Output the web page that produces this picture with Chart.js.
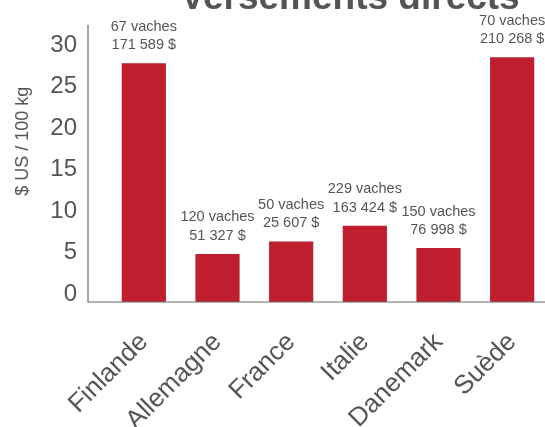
<!DOCTYPE html>
<html>
<head>
<meta charset="utf-8">
<script src="https://cdn.jsdelivr.net/npm/chart.js@4/dist/chart.umd.min.js"></script>
<style>
  html, body { margin: 0; padding: 0; background: #fff; overflow: hidden; width: 545px; height: 427px; }
  canvas { display: block; }
</style>
</head>
<body>
<canvas id="c" width="560" height="427"></canvas>
<script>
const categories = ['Finlande', 'Allemagne', 'France', 'Italie', 'Danemark', 'Suède'];
const values = [28.8, 5.8, 7.3, 9.2, 6.5, 29.5];
const cowLabels = ['67 vaches', '120 vaches', '50 vaches', '229 vaches', '150 vaches', '70 vaches'];
const amountLabels = ['171 589 $', '51 327 $', '25 607 $', '163 424 $', '76 998 $', '210 268 $'];
const yTicks = [0, 5, 10, 15, 20, 25, 30];
const titleText = 'Versements directs';
const yTitleText = '$ US / 100 kg';

const TEXT = '#555555';
const BAR = '#BE1E2D';
const FONT = '"Liberation Sans", Arial, sans-serif';

const decor = {
  id: 'decor',
  afterDatasetsDraw(chart) {
    const ctx = chart.ctx;
    const a = chart.chartArea;
    const meta = chart.getDatasetMeta(0);
    ctx.save();
    // axis lines
    ctx.strokeStyle = '#6a6a6a';
    ctx.lineWidth = 1.2;
    const ax = a.left - 19;
    ctx.beginPath();
    ctx.moveTo(ax, a.top);
    ctx.lineTo(ax, a.bottom);
    ctx.lineTo(a.right, a.bottom);
    ctx.stroke();
    // data labels
    ctx.fillStyle = TEXT;
    ctx.font = '14.5px ' + FONT;
    ctx.textAlign = 'center';
    ctx.textBaseline = 'middle';
    meta.data.forEach((bar, i) => {
      ctx.fillText(amountLabels[i], bar.x, bar.y - 18);
      ctx.fillText(cowLabels[i], bar.x, bar.y - 36.5);
    });
    // y axis title
    ctx.font = '18px ' + FONT;
    ctx.save();
    ctx.translate(23, a.top + (a.bottom - a.top) * 0.42);
    ctx.rotate(-Math.PI / 2);
    ctx.fillText(yTitleText, 0, 0);
    ctx.restore();
    // cropped title
    ctx.font = 'bold 37px ' + FONT;
    ctx.textBaseline = 'alphabetic';
    ctx.fillText(titleText, (a.left + a.right) / 2 + 22, 9);
    ctx.restore();
  }
};

new Chart(document.getElementById('c'), {
  type: 'bar',
  data: {
    labels: categories,
    datasets: [{
      data: values,
      backgroundColor: BAR,
      borderWidth: 0,
      barPercentage: 0.6,
      categoryPercentage: 1.0
    }]
  },
  options: {
    responsive: false,
    animation: false,
    events: [],
    layout: { padding: { top: 25, right: 11, left: 0, bottom: 0 } },
    plugins: { legend: { display: false }, tooltip: { enabled: false }, title: { display: false } },
    scales: {
      x: {
        grid: { display: false, drawTicks: false },
        border: { display: false },
        ticks: {
          color: TEXT,
          font: { family: FONT, size: 26 },
          minRotation: 45,
          maxRotation: 45,
          padding: 25,
          autoSkip: false
        },
        afterFit(scale) {
          scale.height = 125;
          scale.paddingLeft = 0;
          scale.paddingRight = 0;
        }
      },
      y: {
        min: 0,
        max: 33.4,
        grid: { display: false, drawTicks: false },
        border: { display: false },
        afterBuildTicks(scale) { scale.ticks = yTicks.map(v => ({ value: v })); },
        ticks: {
          color: TEXT,
          font: { family: FONT, size: 24 },
          padding: 30,
          labelOffset: -8
        },
        afterFit(scale) {
          scale.width = 107;
          scale.paddingTop = 0;
          scale.paddingBottom = 0;
        }
      }
    }
  },
  plugins: [decor]
});
</script>
</body>
</html>
